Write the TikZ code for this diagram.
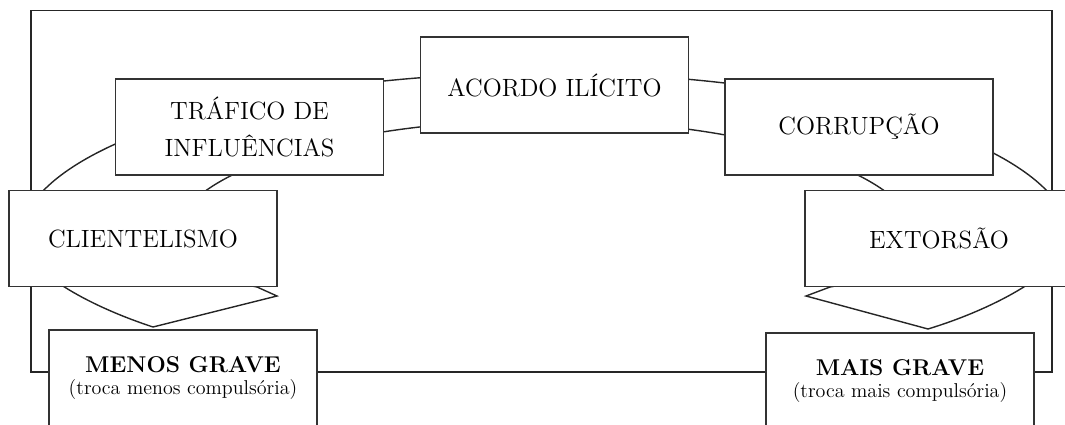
\documentclass[tikz,border=0pt]{standalone}
\usepackage{fontspec}

\begin{document}
\begin{tikzpicture}[x=0.02cm,y=0.02cm,
  caixa/.style={draw=black!80, line width=1pt, fill=white, minimum width=5.36cm,
    minimum height=1.92cm, inner sep=0pt, align=center,
    font=\fontsize{14.2}{21}\selectfont, text=black},
  grave/.style={caixa, font=\fontsize{11.4}{13}\selectfont},
  anel/.style={draw=black!85, line width=0.8pt}]
\useasboundingbox (0,0) rectangle (1065,-425);

\coordinate (apexL) at (153,-327);
\coordinate (barbL) at (277,-296);
\coordinate (baseL) at (257,-287);
\coordinate (apexR) at (928,-329);
\coordinate (barbR) at (806,-296);
\coordinate (baseR) at (830,-287);
\coordinate (oL) at (20,-240);
\coordinate (iL) at (173,-240);

\draw[anel] (31,-10.5) rectangle (1052,-372); %%quadro

%% anel com as duas pontas
\draw[anel] (apexL) .. controls (95,-308) and (30,-275) .. (oL)
  arc[start angle=180, end angle=0, x radius=525, y radius=167]
  .. controls (1062,-270) and (1000,-307) .. (apexR);
\draw[anel] (apexL) -- (barbL) -- (baseL) .. controls (220,-280) and (180,-262) .. (iL)
  arc[start angle=180, end angle=0, x radius=372, y radius=120]
  .. controls (910,-262) and (870,-280) .. (baseR) -- (barbR) -- (apexR);

\node[caixa] (acordo) at (554.5,-85) {ACORDO ILÍCITO};
\node[caixa] (trafico) at (249.5,-127) {TRÁFICO DE\\INFLUÊNCIAS};
\node[caixa] (corrupcao) at (859,-127) {CORRUPÇÃO};
\node[caixa] (clientelismo) at (143,-238.5) {CLIENTELISMO};
\node[caixa] (extorsao) at (939,-238.5) {EXTORSÃO};
\node[grave] (menos) at (183,-378) {{\fontsize{13}{16}\bfseries MENOS GRAVE}\\(troca menos compulsória)};
\node[grave] (mais) at (900,-381) {{\fontsize{13}{16}\bfseries MAIS GRAVE}\\(troca mais compulsória)};
\end{tikzpicture}
\end{document}
